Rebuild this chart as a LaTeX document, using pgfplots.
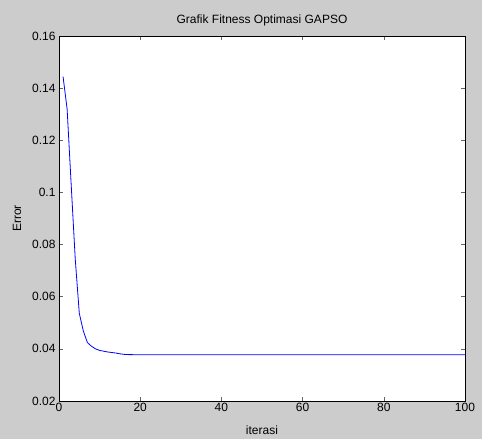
\documentclass[border=0pt]{standalone}
\usepackage{pgfplots}
\pgfplotsset{compat=1.18}
\usepackage{fontspec}
\setmainfont{Liberation Sans}
\definecolor{figbg}{RGB}{204,204,204}
\begin{document}
\begin{tikzpicture}[x=1pt,y=1pt]
\fill[figbg] (0,0) rectangle (482,439);
\begin{axis}[
  at={(59pt,38pt)}, anchor=south west,
  width=406pt, height=365pt, scale only axis,
  xmin=0, xmax=100, ymin=0.02, ymax=0.16,
  xtick={0,20,...,100},
  ytick={0.02,0.04,...,0.16},
  yticklabel style={/pgf/number format/.cd,fixed,precision=2},
  /pgf/number format/assume math mode=true,
  tick align=inside, ticks=both,
  xtick pos=both, ytick pos=both,
  major tick length=4pt,
  axis background/.style={fill=white},
  axis line style={black, line width=0.8pt},
  tick style={black!60, line width=0.6pt},
  font=\fontsize{12}{14}\selectfont,
  title={Grafik Fitness Optimasi GAPSO},
  title style={yshift=0pt},
  xlabel={iterasi}, ylabel={Error},
  xlabel style={yshift=-7pt},
  ylabel style={yshift=4pt},
  xticklabel style={yshift=1pt},
  scaled y ticks=false,
]
\addplot[blue, line width=0.8pt] coordinates {
(1,0.1444) (2,0.1320) (3,0.1030) (4,0.0745) (5,0.0536) (6,0.0468) (7,0.0424)
(8,0.0410) (9,0.0400) (10,0.0394) (11,0.0391) (12,0.0388) (13,0.0386) (14,0.0384)
(15,0.0381) (16,0.0379) (17,0.0378) (18,0.03778) (19,0.03776) (20,0.03776)
(30,0.03776) (40,0.03776) (50,0.03776) (60,0.03776) (70,0.03776) (80,0.03776) (90,0.03776) (100,0.03776)
};
\end{axis}
\end{tikzpicture}
\end{document}
